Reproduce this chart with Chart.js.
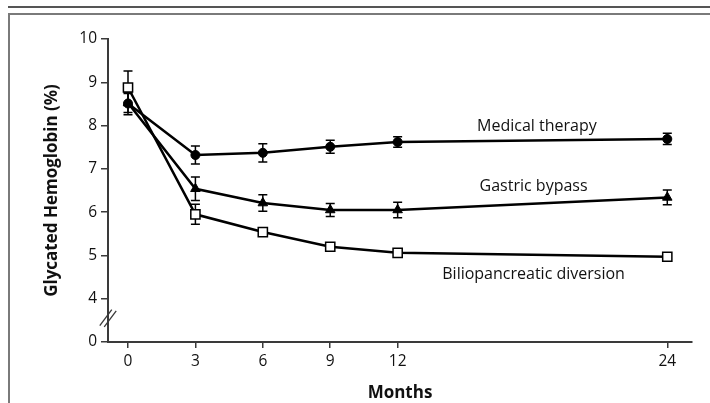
<!DOCTYPE html>
<html>
<head>
<meta charset="utf-8">
<script src="https://cdn.jsdelivr.net/npm/chart.js@4.4.1/dist/chart.umd.min.js"></script>
<style>
  html, body { margin: 0; padding: 0; background: #fff; }
  canvas { display: block; }
</style>
</head>
<body>
<canvas id="c" width="710" height="403"></canvas>
<script>
// Data (months on x axis, glycated hemoglobin % on y axis)
const months = [0, 3, 6, 9, 12, 24];
const xTickValues = [0, 3, 6, 9, 12, 24];
const yTickValues = [3, 4, 5, 6, 7, 8, 9, 10]; // 3 is shown as "0" (axis break)
const yTickLabels = ['0', '4', '5', '6', '7', '8', '9', '10'];

const medical = [8.51, 7.32, 7.37, 7.51, 7.62, 7.69];
const medicalErr = [0.26, 0.21, 0.21, 0.15, 0.12, 0.13];
const bypass = [8.52, 6.54, 6.21, 6.05, 6.05, 6.34];
const bypassErr = [0.22, 0.27, 0.19, 0.15, 0.18, 0.17];
const bilio = [8.88, 5.95, 5.54, 5.20, 5.06, 4.97];
const bilioErr = [0.38, 0.23, 0.08, 0.05, 0.07, 0.08];

const seriesNames = ['Medical therapy', 'Gastric bypass', 'Biliopancreatic diversion'];
const labelAnchors = [
  { x: 18.2, y: 7.97 },
  { x: 18.05, y: 6.59 },
  { x: 18.05, y: 4.55 }
];

const FONT = "'Open Sans', 'Noto Sans', sans-serif";
const AXIS = '#3a3a3a';

function pts(vals) { return months.map((m, i) => ({ x: m, y: vals[i] })); }

const errorBars = {
  id: 'errorBars',
  beforeDatasetsDraw(chart) {
    const { ctx, scales: { x, y } } = chart;
    const errs = [medicalErr, bypassErr, bilioErr];
    const vals = [medical, bypass, bilio];
    ctx.save();
    ctx.strokeStyle = '#000';
    ctx.lineWidth = 1.5;
    errs.forEach((e, d) => {
      months.forEach((m, i) => {
        const px = x.getPixelForValue(m);
        const y1 = y.getPixelForValue(vals[d][i] + e[i]);
        const y2 = y.getPixelForValue(vals[d][i] - e[i]);
        ctx.beginPath();
        ctx.moveTo(px, y1); ctx.lineTo(px, y2);
        ctx.moveTo(px - 4.5, y1); ctx.lineTo(px + 4.5, y1);
        ctx.moveTo(px - 4.5, y2); ctx.lineTo(px + 4.5, y2);
        ctx.stroke();
      });
    });
    ctx.restore();
  }
};

const decorations = {
  id: 'decorations',
  beforeDraw(chart) {
    const { ctx } = chart;
    ctx.save();
    ctx.fillStyle = '#fff';
    ctx.fillRect(0, 0, chart.width, chart.height);
    ctx.strokeStyle = '#555';
    ctx.lineWidth = 2;
    ctx.beginPath(); ctx.moveTo(8, 7); ctx.lineTo(710, 7); ctx.stroke();
    ctx.strokeStyle = '#7a7a7a';
    ctx.beginPath(); ctx.moveTo(8, 14); ctx.lineTo(710, 14); ctx.stroke();
    ctx.beginPath(); ctx.moveTo(9, 13); ctx.lineTo(9, 403); ctx.stroke();
    ctx.restore();
  },
  afterDraw(chart) {
    const { ctx, scales: { x, y } } = chart;
    ctx.save();
    // axis break marks
    const ax = x.left;
    const cy = y.getPixelForValue(3.55);
    ctx.strokeStyle = AXIS;
    ctx.lineWidth = 1.3;
    [-2.2, 2.2].forEach(o => {
      ctx.beginPath();
      ctx.moveTo(ax - 6 + o, cy + 8 + o * 0.3);
      ctx.lineTo(ax + 6 + o, cy - 8 + o * 0.3);
      ctx.stroke();
    });
    // series labels
    ctx.fillStyle = '#111';
    ctx.font = '16px ' + FONT;
    ctx.textAlign = 'center';
    ctx.textBaseline = 'middle';
    seriesNames.forEach((n, i) => {
      ctx.fillText(n, x.getPixelForValue(labelAnchors[i].x), y.getPixelForValue(labelAnchors[i].y));
    });
    ctx.restore();
  }
};

new Chart(document.getElementById('c'), {
  type: 'line',
  data: {
    datasets: [
      { label: seriesNames[0], data: pts(medical), borderColor: '#000', borderWidth: 2.5,
        pointStyle: 'circle', pointRadius: 4.5, pointBackgroundColor: '#000', pointBorderColor: '#000', pointBorderWidth: 1 },
      { label: seriesNames[1], data: pts(bypass), borderColor: '#000', borderWidth: 2.5,
        pointStyle: 'triangle', pointRadius: 5.5, pointBackgroundColor: '#000', pointBorderColor: '#000', pointBorderWidth: 1 },
      { label: seriesNames[2], data: pts(bilio), borderColor: '#000', borderWidth: 2.5,
        pointStyle: 'rect', pointRadius: 6.5, pointBackgroundColor: '#fff', pointBorderColor: '#000', pointBorderWidth: 1.5 }
    ]
  },
  options: {
    responsive: false,
    animation: false,
    layout: { padding: { top: 39, right: 18, bottom: 0, left: 0 } },
    plugins: { legend: { display: false }, tooltip: { enabled: false } },
    elements: { line: { tension: 0 } },
    scales: {
      x: {
        type: 'linear',
        min: -0.89,
        max: 25.1,
        afterBuildTicks(s) { s.ticks = xTickValues.map(v => ({ value: v })); },
        afterFit(s) { s.height = 61; s.paddingLeft = 0; s.paddingRight = 0; },
        grid: { drawOnChartArea: false, drawTicks: true, tickLength: 6, color: AXIS, lineWidth: 1.5 },
        border: { display: true, color: AXIS, width: 2 },
        ticks: { color: '#111', font: { family: FONT, size: 15.5 }, padding: 4, maxRotation: 0,
                 callback: v => String(v) },
        title: { display: true, text: 'Months', color: '#111', font: { family: FONT, size: 17, weight: 'bold' },
                 padding: { top: 0, bottom: 0 } }
      },
      y: {
        type: 'linear',
        min: 3,
        max: 10,
        afterBuildTicks(s) { s.ticks = yTickValues.map(v => ({ value: v })); },
        afterFit(s) { s.width = 108; s.paddingTop = 0; s.paddingBottom = 0; },
        grid: { drawOnChartArea: false, drawTicks: true, tickLength: 7, color: AXIS, lineWidth: 1.5 },
        border: { display: true, color: AXIS, width: 2 },
        ticks: { color: '#111', font: { family: FONT, size: 15.5 }, padding: 4,
                 callback: v => yTickLabels[yTickValues.indexOf(v)] },
        title: { display: true, text: 'Glycated Hemoglobin (%)', color: '#111',
                 font: { family: FONT, size: 17, weight: 'bold' }, padding: { top: 41.5, bottom: 0 } }
      }
    }
  },
  plugins: [decorations, errorBars]
});
</script>
</body>
</html>
